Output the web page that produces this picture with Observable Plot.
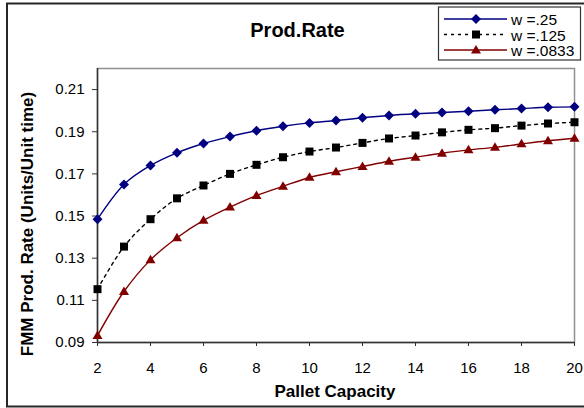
<!DOCTYPE html>
<html>
<head>
<meta charset="utf-8">
<script src="https://cdn.jsdelivr.net/npm/d3@7"></script>
<script src="https://cdn.jsdelivr.net/npm/@observablehq/plot@0.6"></script>
<style>
  html, body { margin: 0; padding: 0; background: #fff; overflow: hidden; }
  #chart { position: relative; width: 584px; height: 408px; }
  #chart svg { position: absolute; left: 0; top: 0; }
</style>
</head>
<body>
<div id="chart"></div>
<script>
// Pallet capacity (x) and FMM production rate for three w values
const capacity = [2, 3, 4, 5, 6, 7, 8, 9, 10, 11, 12, 13, 14, 15, 16, 17, 18, 19, 20];
const rateW250 = [0.1485, 0.1650, 0.1740, 0.1800, 0.1844, 0.1877, 0.1905, 0.1926, 0.1942, 0.1953,
                  0.1966, 0.1977, 0.1985, 0.1991, 0.1997, 0.2004, 0.2010, 0.2016, 0.2018];
const rateW125 = [0.1153, 0.1355, 0.1485, 0.1584, 0.1645, 0.1700, 0.1743, 0.1779, 0.1806, 0.1825,
                  0.1847, 0.1868, 0.1882, 0.1897, 0.1909, 0.1917, 0.1929, 0.1939, 0.1945];
const rateW0833 = [0.0933, 0.1142, 0.1292, 0.1397, 0.1479, 0.1542, 0.1597, 0.1641, 0.1683, 0.1710,
                   0.1735, 0.1760, 0.1779, 0.1798, 0.1814, 0.1826, 0.1842, 0.1857, 0.1869];
const seriesNames = ["w =.25", "w =.125", "w =.0833"];
const xTicks = [2, 4, 6, 8, 10, 12, 14, 16, 18, 20];
const yTicks = [0.09, 0.11, 0.13, 0.15, 0.17, 0.19, 0.21];

// Marker shapes; "size" arrives as r²·π, so sqrt(size/π) is the dot's r
const half = size => Math.sqrt(size / Math.PI);
const diamondMarker = {draw(ctx, size) {
  const r = half(size);
  ctx.moveTo(0, -r); ctx.lineTo(r, 0); ctx.lineTo(0, r); ctx.lineTo(-r, 0); ctx.closePath();
}};
const squareMarker = {draw(ctx, size) {
  const r = half(size);
  ctx.rect(-r, -r, 2 * r, 2 * r);
}};
const triangleMarker = {draw(ctx, size) {
  const r = half(size), h = r * 1.7;
  ctx.moveTo(0, -h * 0.6); ctx.lineTo(r, h * 0.4); ctx.lineTo(-r, h * 0.4); ctx.closePath();
}};

const styles = [
  {color: "#000080", marker: diamondMarker, dash: null, r: 5},
  {color: "#000000", marker: squareMarker, dash: "3,4", r: 4},
  {color: "#800000", marker: triangleMarker, dash: null, r: 5}
];
const seriesValues = [rateW250, rateW125, rateW0833];
const rows = seriesValues.map((vals, i) =>
  capacity.map((c, j) => ({capacity: c, rate: vals[j], series: seriesNames[i]})));

const W = 584, H = 408;
const font = "'Liberation Sans', Arial, sans-serif";

const marks = [
  Plot.frame({stroke: "#909090", strokeWidth: 1.5}),
  Plot.ruleX([2], {stroke: "#333", strokeWidth: 1.5}),
  Plot.ruleY([0.09], {stroke: "#333", strokeWidth: 1.5}),
  Plot.axisX({ticks: xTicks, tickSize: 4, tickPadding: 16, label: null, fontSize: 15, stroke: "#333"}),
  Plot.axisY({ticks: yTicks, tickSize: 5, tickPadding: 8, label: null, fontSize: 15,
    tickFormat: d3.format(".2f"), stroke: "#333"})
];
rows.forEach((data, i) => {
  const s = styles[i];
  marks.push(Plot.line(data, {x: "capacity", y: "rate", stroke: s.color, strokeWidth: 1.4,
    strokeDasharray: s.dash, curve: "catmull-rom"}));
  marks.push(Plot.dot(data, {x: "capacity", y: "rate", symbol: s.marker, fill: s.color,
    stroke: "none", r: s.r}));
});

const plot = Plot.plot({
  width: W, height: H,
  marginLeft: 97, marginRight: 10, marginTop: 68, marginBottom: 66,
  style: {fontFamily: font, color: "#000", background: "transparent"},
  x: {domain: [2, 20]},
  y: {domain: [0.09, 0.22]},
  marks
});
document.getElementById("chart").appendChild(plot);

// Outer border, titles and legend added onto the same svg
const svg = d3.select(plot);
svg.insert("rect", ":first-child")
  .attr("x", 7).attr("y", 3.5).attr("width", 620).attr("height", 403)
  .attr("fill", "#fff").attr("stroke", "#262626").attr("stroke-width", 2);

svg.append("text").text("Prod.Rate")
  .attr("x", 297.5).attr("y", 37).attr("text-anchor", "middle")
  .attr("font-family", font).attr("font-weight", "bold").attr("font-size", 20);

svg.append("text").text("Pallet Capacity")
  .attr("x", 335).attr("y", 397).attr("text-anchor", "middle")
  .attr("font-family", font).attr("font-weight", "bold").attr("font-size", 17);

svg.append("text").text("FMM Prod. Rate (Units/Unit time)")
  .attr("transform", "translate(33,224) rotate(-90)").attr("text-anchor", "middle")
  .attr("font-family", font).attr("font-weight", "bold").attr("font-size", 17);

const lg = svg.append("g");
lg.append("rect").attr("x", 438.5).attr("y", 7).attr("width", 142).attr("height", 53)
  .attr("fill", "#fff").attr("stroke", "#333").attr("stroke-width", 1.2);
seriesNames.forEach((name, i) => {
  const s = styles[i];
  const y = 19 + i * 15.5;
  lg.append("line").attr("x1", 444).attr("x2", 507).attr("y1", y).attr("y2", y)
    .attr("stroke", s.color).attr("stroke-width", 1.4).attr("stroke-dasharray", s.dash);
  lg.append("path").attr("d", d3.symbol(s.marker, Math.PI * s.r * s.r)())
    .attr("transform", `translate(476,${y})`).attr("fill", s.color);
  lg.append("text").text(name).attr("x", 511).attr("y", y + 6).attr("text-anchor", "start")
    .attr("font-family", font).attr("font-size", 15.5);
});
</script>
</body>
</html>
